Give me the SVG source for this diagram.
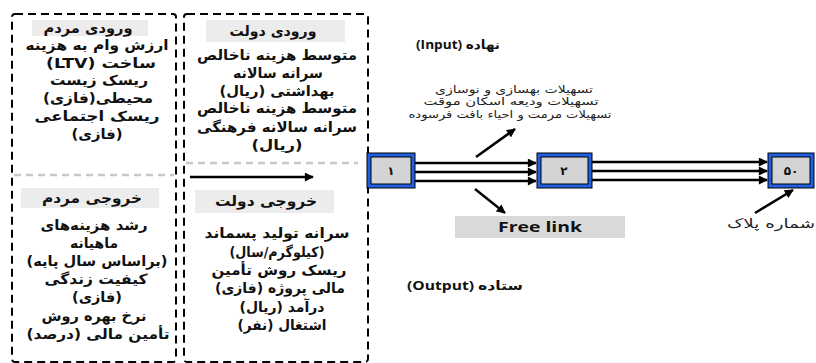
<svg xmlns="http://www.w3.org/2000/svg" width="816" height="363" viewBox="0 0 816 363">
<defs>
<style>
.box{fill:none;stroke:#000;stroke-width:2;stroke-dasharray:8 5}
.sep{fill:none;stroke:#c8c8c8;stroke-width:2.5;stroke-dasharray:7 5}
.hdr{fill:#ececec}
.fa{font-family:"DejaVu Sans","Noto Sans",sans-serif;font-weight:bold;font-size:14px;fill:#111;text-anchor:middle;direction:rtl}
.fr{font-family:"DejaVu Sans","Noto Sans",sans-serif;font-size:10.5px;fill:#222;text-anchor:middle;direction:rtl}
.lat{font-family:"Open Sans","DejaVu Sans",sans-serif;font-weight:bold;font-size:12.5px;fill:#111;text-anchor:middle;direction:rtl}
.outer{fill:#1f5fe0;stroke:#000;stroke-width:1}
.inner{fill:#d4d4d4;stroke:#000;stroke-width:1}
.num{font-family:"DejaVu Sans",sans-serif;font-weight:bold;font-size:12px;fill:#111;text-anchor:middle}
.ar{stroke:#000;stroke-width:2.5;fill:none;marker-end:url(#ah)}
</style>
<marker id="ah" viewBox="0 0 10 10" refX="9" refY="5" markerWidth="4" markerHeight="3.6" orient="auto" markerUnits="strokeWidth">
<path d="M0,0 L10,5 L0,10 z" fill="#000"/>
</marker>
</defs>
<rect width="816" height="363" fill="#fff"/>

<g id="people">
<rect class="box" x="12" y="14" width="164" height="348" rx="3"/>
<line class="sep" x1="14" y1="175" x2="174" y2="175"/>
<g id="people-input">
<rect class="hdr" x="32" y="20" width="116" height="16"/>
<text class="fa" x="88" y="33" textLength="89" lengthAdjust="spacingAndGlyphs">ورودی مردم</text>
<text class="fa" x="97" y="50" textLength="143" lengthAdjust="spacingAndGlyphs">ارزش وام به هزینه</text>
<text class="fa" x="101" y="68" textLength="110" lengthAdjust="spacingAndGlyphs">ساخت (LTV)</text>
<text class="fa" x="99" y="85" textLength="98" lengthAdjust="spacingAndGlyphs">ریسک زیست</text>
<text class="fa" x="98" y="103" textLength="110" lengthAdjust="spacingAndGlyphs">محیطی(فازی)</text>
<text class="fa" x="97" y="121" textLength="125" lengthAdjust="spacingAndGlyphs">ریسک اجتماعی</text>
<text class="fa" x="97" y="139" textLength="51" lengthAdjust="spacingAndGlyphs">(فازی)</text>
</g>
<g id="people-output">
<rect class="hdr" x="21" y="188" width="138" height="20"/>
<text class="fa" x="92" y="203" textLength="100" lengthAdjust="spacingAndGlyphs">خروجی مردم</text>
<text class="fa" x="94" y="230" textLength="107" lengthAdjust="spacingAndGlyphs">رشد هزینه‌های</text>
<text class="fa" x="94" y="248" textLength="48" lengthAdjust="spacingAndGlyphs">ماهیانه</text>
<text class="fa" x="97" y="266" textLength="141" lengthAdjust="spacingAndGlyphs">(براساس سال پایه)</text>
<text class="fa" x="96" y="284" textLength="103" lengthAdjust="spacingAndGlyphs">کیفیت زندگی</text>
<text class="fa" x="97" y="302" textLength="50" lengthAdjust="spacingAndGlyphs">(فازی)</text>
<text class="fa" x="94" y="321" textLength="105" lengthAdjust="spacingAndGlyphs">نرخ بهره روش</text>
<text class="fa" x="98" y="339" textLength="143" lengthAdjust="spacingAndGlyphs">تأمین مالی (درصد)</text>
</g>
</g>

<g id="government">
<rect class="box" x="184" y="14" width="184" height="348" rx="3"/>
<line class="sep" x1="186" y1="163" x2="358" y2="163"/>
<g id="gov-input">
<rect class="hdr" x="206" y="20" width="139" height="22"/>
<text class="fa" x="273" y="36" textLength="87" lengthAdjust="spacingAndGlyphs">ورودی دولت</text>
<text class="fa" x="277" y="60" textLength="160" lengthAdjust="spacingAndGlyphs">متوسط هزینه ناخالص</text>
<text class="fa" x="278" y="78" textLength="90" lengthAdjust="spacingAndGlyphs">سرانه سالانه</text>
<text class="fa" x="277" y="96" textLength="115" lengthAdjust="spacingAndGlyphs">بهداشتی (ریال)</text>
<text class="fa" x="277" y="113" textLength="160" lengthAdjust="spacingAndGlyphs">متوسط هزینه ناخالص</text>
<text class="fa" x="277" y="132" textLength="160" lengthAdjust="spacingAndGlyphs">سرانه سالانه فرهنگی</text>
<text class="fa" x="277" y="150" textLength="51" lengthAdjust="spacingAndGlyphs">(ریال)</text>
</g>
<g id="gov-output">
<rect class="hdr" x="195" y="190" width="139" height="23"/>
<text class="fa" x="266" y="206" textLength="102" lengthAdjust="spacingAndGlyphs">خروجی دولت</text>
<text class="fa" x="277" y="238" textLength="145" lengthAdjust="spacingAndGlyphs">سرانه تولید پسماند</text>
<text class="fa" x="277" y="257" textLength="95" lengthAdjust="spacingAndGlyphs">(کیلوگرم/سال)</text>
<text class="fa" x="279" y="275" textLength="135" lengthAdjust="spacingAndGlyphs">ریسک روش تأمین</text>
<text class="fa" x="280" y="293" textLength="130" lengthAdjust="spacingAndGlyphs">مالی پروژه (فازی)</text>
<text class="fa" x="282" y="312" textLength="85" lengthAdjust="spacingAndGlyphs">درآمد (ریال)</text>
<text class="fa" x="282" y="330" textLength="89" lengthAdjust="spacingAndGlyphs">اشتغال (نفر)</text>
</g>
</g>

<g id="labels">
<text class="lat" x="458" y="49" textLength="84" lengthAdjust="spacingAndGlyphs">نهاده (Input)</text>
<text class="lat" x="465" y="290" textLength="116" lengthAdjust="spacingAndGlyphs">ستاده (Output)</text>
<text class="fr" x="514" y="92.5" textLength="158" lengthAdjust="spacingAndGlyphs">تسهیلات بهسازی و نوسازی</text>
<text class="fr" x="511" y="105" textLength="175" lengthAdjust="spacingAndGlyphs">تسهیلات ودیعه اسکان موقت</text>
<text class="fr" x="510" y="117.5" textLength="203" lengthAdjust="spacingAndGlyphs">تسهیلات مرمت و احیاء بافت فرسوده</text>
<text class="fr" x="771" y="228" style="font-size:12.5px" textLength="88" lengthAdjust="spacingAndGlyphs">شماره پلاک</text>
</g>

<g id="node1">
<rect class="outer" x="367" y="153" width="48" height="35"/>
<rect class="inner" x="371" y="157" width="40" height="27"/>
<text class="num" x="391" y="175">۱</text>
</g>
<g id="node2">
<rect class="outer" x="537" y="153" width="55" height="35"/>
<rect class="inner" x="541" y="157" width="47" height="27"/>
<text class="num" x="564" y="175">۲</text>
</g>
<g id="node50">
<rect class="outer" x="768" y="153" width="46" height="35"/>
<rect class="inner" x="772" y="157" width="38" height="27"/>
<text class="num" x="791" y="175">۵۰</text>
</g>
<g id="freelink">
<rect x="455" y="216" width="170" height="22" fill="#d9d9d9"/>
<text x="540" y="232" textLength="84" lengthAdjust="spacingAndGlyphs" style="font-family:'Open Sans','DejaVu Sans',sans-serif;font-weight:bold;font-size:15px;fill:#111;text-anchor:middle">Free link</text>
</g>

<g id="connectors">
<line class="ar" x1="190" y1="177" x2="313" y2="177"/>
<line class="ar" x1="415" y1="163" x2="536" y2="163"/>
<line class="ar" x1="415" y1="172" x2="536" y2="172"/>
<line class="ar" x1="415" y1="181" x2="536" y2="181"/>
<line class="ar" x1="592" y1="162" x2="767" y2="162"/>
<line class="ar" x1="592" y1="171" x2="767" y2="171"/>
<line class="ar" x1="592" y1="180" x2="767" y2="180"/>
<line class="ar" x1="476" y1="157" x2="515" y2="129"/>
<line class="ar" x1="475" y1="189" x2="505" y2="213"/>
<line class="ar" x1="755" y1="213" x2="793" y2="190"/>
</g>
</svg>
